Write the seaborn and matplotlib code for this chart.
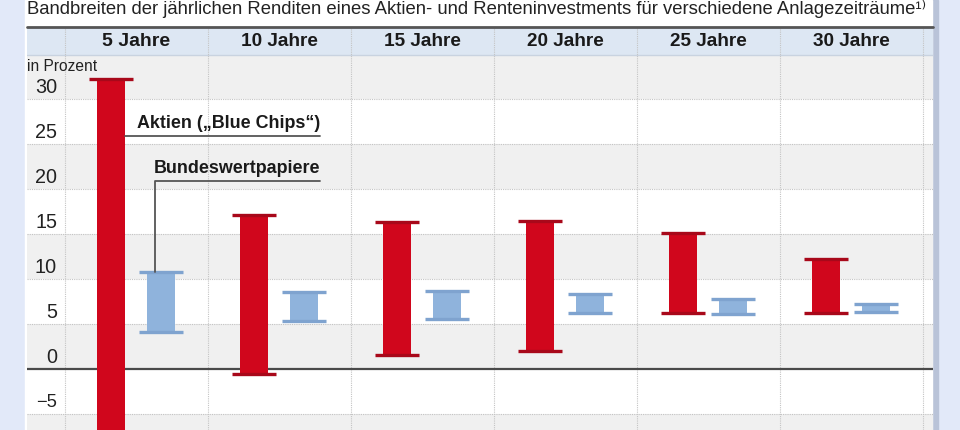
import matplotlib
matplotlib.use("Agg")
import matplotlib.pyplot as plt
from matplotlib.patches import Rectangle
import numpy as np
import seaborn as sns

# values (in Prozent)
periods = ["5 Jahre", "10 Jahre", "15 Jahre", "20 Jahre", "25 Jahre", "30 Jahre"]
aktien_hi = [32.2, 17.1, 16.3, 16.4, 15.1, 12.2]
aktien_lo = [-12.0, -0.6, 1.6, 2.0, 6.2, 6.2]
renten_hi = [10.8, 8.5, 8.7, 8.3, 7.8, 7.2]
renten_lo = [4.1, 5.3, 5.6, 6.2, 6.1, 6.3]
yticks = [-5, 0, 5, 10, 15, 20, 25, 30]
title = ("Bandbreiten der jährlichen Renditen eines Aktien- und "
         "Renteninvestments für verschiedene Anlagezeiträume¹⁾")

RED, RED_DARK = "#d0061c", "#a8081a"
BLUE, BLUE_DARK = "#8fb3dc", "#7fa3cf"
GREY_BAND = "#f0f0f0"
HEADER = "#dde7f3"
OUTSIDE = "#e2e9f9"
FONT = ["Liberation Sans", "DejaVu Sans"]

sns.set_style("white")
plt.rcParams["font.family"] = FONT

fig = plt.figure(figsize=(9.6, 4.3), dpi=100)
fig.patch.set_facecolor(OUTSIDE)
renderer = fig.canvas.get_renderer()


def fit(t, width_px, max_size=30):
    # shrink the font until the text is as wide as in the reference
    t.set_fontsize(max_size)
    w = t.get_window_extent(renderer).width
    t.set_fontsize(max_size * width_px / w)
    return t


# white card + soft shadow on the right
fig.patches.append(Rectangle((932 / 960, 0), 6 / 960, 1, transform=fig.transFigure,
                             color="#b9c3d8", zorder=-2))
fig.patches.append(Rectangle((25 / 960, 0), 907 / 960, 1, transform=fig.transFigure,
                             color="white", zorder=-1))

ax = fig.add_axes([27 / 960, 0, 906 / 960, 403 / 430])
ax.set_facecolor("white")
Y_LO, Y_HI = -6.78, 38.0
HEAD_LO = 34.9
X_LO, X_HI = -0.766, 5.57

# alternating bands
for lo in range(-10, 35, 5):
    if (lo // 5) % 2 == 0:
        ax.axhspan(lo, min(lo + 5, HEAD_LO), color=GREY_BAND, lw=0, zorder=0)
ax.axhspan(HEAD_LO, Y_HI, color=HEADER, lw=0, zorder=0)
ax.axhline(HEAD_LO, color="#c9d3e0", lw=1, zorder=1)

for y in yticks:
    if y != 0:
        ax.axhline(y, color="#c4c4c4", lw=0.8, ls=(0, (1, 1)), zorder=1)
for xv in np.arange(-0.5, 6.0, 1.0):
    ax.axvline(xv, color="#c4c4c4", lw=0.8, ls=(0, (1, 1)), zorder=1)

pos = np.arange(len(periods))
off_a, off_r = -0.18, 0.17
bar_w, cap_w = 0.196, 0.31

sns.barplot(x=pos + off_a, y=np.subtract(aktien_hi, aktien_lo), bottom=aktien_lo,
            native_scale=True, width=bar_w, color=RED, saturation=1,
            errorbar=None, linewidth=0, ax=ax, zorder=3)
sns.barplot(x=pos + off_r, y=np.subtract(renten_hi, renten_lo), bottom=renten_lo,
            native_scale=True, width=bar_w, color=BLUE, saturation=1,
            errorbar=None, linewidth=0, ax=ax, zorder=3)
for off, hi, lo, c in [(off_a, aktien_hi, aktien_lo, RED_DARK),
                       (off_r, renten_hi, renten_lo, BLUE_DARK)]:
    ax.hlines(hi, pos + off - cap_w / 2, pos + off + cap_w / 2, color=c, lw=2.4, zorder=4)
    ax.hlines(lo, pos + off - cap_w / 2, pos + off + cap_w / 2, color=c, lw=2.4, zorder=4)

ax.axhline(0, color="#4a4a4a", lw=1.6, zorder=2)
ax.axhline(Y_HI, color="#555555", lw=2.0, zorder=5, clip_on=False)

ax.set_xlim(X_LO, X_HI)
ax.set_ylim(Y_LO, Y_HI)
ax.set_xticks([])
ax.set_yticks([])
ax.set_xlabel("")
ax.set_ylabel("")
for s in ax.spines.values():
    s.set_visible(False)

# header labels
head_w = [68, 77, 77, 77, 77, 77]
for i, p in enumerate(periods):
    t = ax.text(i, 36.4, p, ha="center", va="center", fontweight="bold",
                color="#1a1a1a", zorder=6)
    fit(t, head_w[i])

# y tick labels sit just above their grid lines
for y in yticks:
    lab = str(y) if y >= 0 else "\u2212" + str(-y)
    t = ax.text(-0.556, y + 1.3, lab, ha="right", va="center",
                color="#222222", zorder=6)
    fit(t, 11 * len(str(abs(y))) + (10 if y < 0 else 0))
t = ax.text(X_LO, 33.6, "in Prozent", ha="left", va="center", color="#222222", zorder=6)
fit(t, 70)

# legend-style call-outs
a_edge = pos[0] + off_a + bar_w / 2
r_x = pos[0] + off_r - 0.04
x_end = 1.283
ax.plot([a_edge, x_end], [25.9, 25.9], color="#555555", lw=1.3, zorder=5)
t = ax.text(x_end, 26.3, "Aktien („Blue Chips“)", ha="right", va="bottom",
            fontweight="bold", color="#1a1a1a", zorder=6)
fit(t, 183)
ax.plot([r_x, r_x, x_end], [renten_hi[0], 20.9, 20.9], color="#555555", lw=1.3, zorder=5)
t = ax.text(x_end, 21.3, "Bundeswertpapiere", ha="right", va="bottom",
            fontweight="bold", color="#1a1a1a", zorder=6)
fit(t, 166)

t = fig.text(27 / 960, 1 - 14 / 430, title, ha="left", va="baseline", color="#222222")
fit(t, 900)

fig.savefig("out.png", dpi=100, facecolor=fig.get_facecolor())
